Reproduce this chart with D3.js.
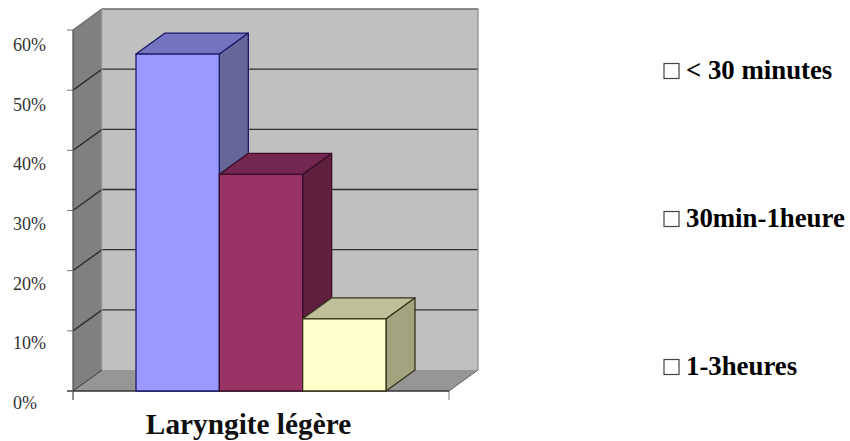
<!DOCTYPE html>
<html>
<head>
<meta charset="utf-8">
<script src="https://cdn.jsdelivr.net/npm/d3@7"></script>
<style>
  html, body { margin: 0; padding: 0; background: #fff; }
  svg { display: block; }
  text { font-family: "Liberation Serif", serif; }
</style>
</head>
<body>
<svg id="chart"></svg>
<script>
const width = 850;
const height = 441;

const seriesNames = ["< 30 minutes", "30min-1heure", "1-3heures"];
const seriesValues = [56, 36, 12];
const frontColors = ["#9999ff", "#993366", "#ffffcc"];
const topColors = ["#7373bf", "#732650", "#bfbf99"];
const sideColors = ["#666699", "#5f2040", "#a3a380"];
const edgeColors = ["#1a1a66", "#3d0f2a", "#33331a"];
const yTicks = [0, 10, 20, 30, 40, 50, 60];
const categoryLabel = "Laryngite légère";

const svg = d3.select("#chart").attr("width", width).attr("height", height);

// oblique offset of the 3D box
const depthX = 29;
const depthY = -21;

const y = d3.scaleLinear().domain([0, 60]).range([391, 30]);
// tick labels sit on a slightly tighter spacing than the ticks themselves
const yLabel = d3.scaleLinear().domain([0, 60]).range([409, 51]);
const xCat = d3.scaleLinear().domain([0, 1]).range([73, 449]);
const xBar = d3.scaleBand().domain(seriesNames).range([136, 386]).padding(0);

const left = xCat(0);
const right = xCat(1);
const poly = (pts) => pts.map((p) => p.join(",")).join(" ");

// walls and floor
svg.append("polygon")
  .attr("points", poly([[left + depthX, y(60) + depthY], [right + depthX, y(60) + depthY], [right + depthX, y(0) + depthY], [left + depthX, y(0) + depthY]]))
  .attr("fill", "#c0c0c0");
svg.append("polygon")
  .attr("points", poly([[left, y(60)], [left + depthX, y(60) + depthY], [left + depthX, y(0) + depthY], [left, y(0)]]))
  .attr("fill", "#808080");
svg.append("polygon")
  .attr("points", poly([[left, y(0)], [left + depthX, y(0) + depthY], [right + depthX, y(0) + depthY], [right, y(0)]]))
  .attr("fill", "#969696");

// gridlines, one part on the left wall and one on the back wall
const grid = svg.append("g").attr("fill", "none").attr("stroke", "#2e2e2e").attr("stroke-width", 1.4);
yTicks.filter((d) => d > 0).forEach((d) => {
  const c = d === 60 ? "#6e6e6e" : "#2e2e2e";
  grid.append("polyline")
    .attr("stroke", c)
    .attr("points", poly([[left, y(d)], [left + depthX, y(d) + depthY], [right + depthX, y(d) + depthY]]));
});
svg.append("line")
  .attr("x1", left + depthX).attr("x2", left + depthX)
  .attr("y1", y(60) + depthY).attr("y2", y(0) + depthY)
  .attr("stroke", "#a8a8a8");
svg.append("line")
  .attr("x1", right + depthX).attr("x2", right + depthX)
  .attr("y1", y(60) + depthY).attr("y2", y(0) + depthY)
  .attr("stroke", "#8f8f8f").attr("stroke-width", 1.3);
svg.append("polyline")
  .attr("points", poly([[left, y(0)], [left + depthX, y(0) + depthY]]))
  .attr("stroke", "#333").attr("fill", "none");
svg.append("polyline")
  .attr("points", poly([[right, y(0)], [right + depthX, y(0) + depthY]]))
  .attr("stroke", "#666").attr("fill", "none");

// y axis
svg.append("line")
  .attr("x1", left).attr("x2", left)
  .attr("y1", y(60)).attr("y2", y(0) + 9)
  .attr("stroke", "#555").attr("stroke-width", 1.3);
svg.append("line")
  .attr("x1", right).attr("x2", right)
  .attr("y1", y(0)).attr("y2", y(0) + 9)
  .attr("stroke", "#999").attr("stroke-width", 1.3);
svg.append("line")
  .attr("x1", left - 6).attr("x2", right)
  .attr("y1", y(0)).attr("y2", y(0))
  .attr("stroke", "#333").attr("stroke-width", 1.3);

const tickG = svg.append("g");
tickG.selectAll("line")
  .data(yTicks)
  .join("line")
  .attr("x1", left - 6).attr("x2", left)
  .attr("y1", (d) => y(d)).attr("y2", (d) => y(d))
  .attr("stroke", "#777");
tickG.selectAll("text")
  .data(yTicks)
  .join("text")
  .attr("x", 13)
  .attr("y", (d) => yLabel(d))
  .attr("font-size", 18)
  .attr("fill", "#333")
  .text((d) => d + "%");

// bars, drawn left to right so each front covers the previous side
const bars = svg.append("g")
  .selectAll("g")
  .data(seriesNames)
  .join("g")
  .attr("stroke-width", 1.3)
  .attr("stroke-linejoin", "round");

bars.each(function (name, i) {
  const g = d3.select(this);
  const x0 = xBar(name);
  const x1 = x0 + xBar.bandwidth();
  const yTop = y(seriesValues[i]);
  const yBase = y(0);
  g.attr("stroke", edgeColors[i]);
  g.append("polygon")
    .attr("fill", sideColors[i])
    .attr("points", poly([[x1, yTop], [x1 + depthX, yTop + depthY], [x1 + depthX, yBase + depthY], [x1, yBase]]));
  g.append("polygon")
    .attr("fill", topColors[i])
    .attr("points", poly([[x0, yTop], [x0 + depthX, yTop + depthY], [x1 + depthX, yTop + depthY], [x1, yTop]]));
  g.append("rect")
    .attr("x", x0).attr("y", yTop)
    .attr("width", x1 - x0).attr("height", yBase - yTop)
    .attr("fill", frontColors[i]);
});

svg.append("text")
  .attr("x", 248.5)
  .attr("y", 434)
  .attr("text-anchor", "middle")
  .attr("font-size", 29.3)
  .attr("font-weight", "bold")
  .attr("fill", "#111")
  .text(categoryLabel);

// legend
const legendY = d3.scalePoint().domain(seriesNames).range([71, 367]);
const legend = svg.append("g")
  .selectAll("g")
  .data(seriesNames)
  .join("g")
  .attr("transform", (d) => `translate(0,${legendY(d)})`);
legend.append("rect")
  .attr("x", 664).attr("y", -7.5)
  .attr("width", 15).attr("height", 15)
  .attr("fill", "none").attr("stroke", "#444").attr("stroke-width", 1.2);
legend.append("text")
  .attr("x", 686)
  .attr("y", 8)
  .attr("font-size", 26.8)
  .attr("font-weight", "bold")
  .attr("fill", "#000")
  .text((d) => d);
</script>
</body>
</html>
